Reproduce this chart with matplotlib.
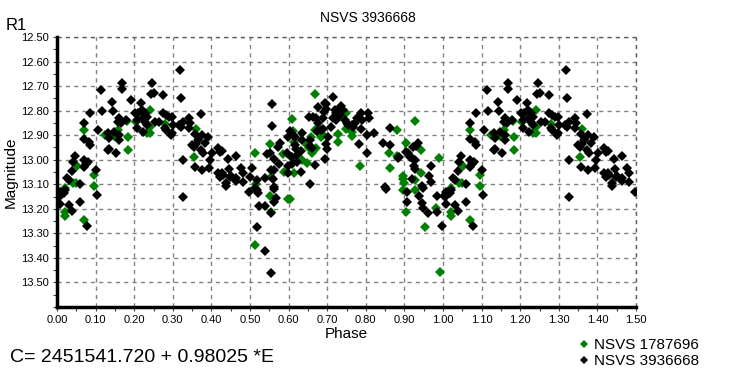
import numpy as np
import matplotlib
matplotlib.use("Agg")
import matplotlib.pyplot as plt
from matplotlib.ticker import MultipleLocator, FormatStrFormatter, FuncFormatter

plt.rcParams['font.family'] = ['Liberation Sans', 'DejaVu Sans']

# NSVS 3936668 (black), folded phase 0..1
black_phase = [
    0.168, 0.168, 0.114, 0.142, 0.191, 0.116, 0.144, 0.085, 0.069, 0.107,
    0.161, 0.157, 0.165, 0.178, 0.131, 0.136, 0.148, 0.161, 0.161, 0.131,
    0.153, 0.134, 0.071, 0.083, 0.085, 0.046, 0.041, 0.038, 0.071, 0.080,
    0.076, 0.071, 0.102, 0.025, 0.030, 0.059, 0.008, 0.004, 0.017, 0.021,
    0.104, 0.008, 0.030, 0.039, 0.059, 0.078, 0.006,
    0.319, 0.245, 0.320, 0.244, 0.250, 0.274, 0.217, 0.202, 0.210, 0.219,
    0.227, 0.233, 0.223, 0.206, 0.206, 0.227, 0.232, 0.223, 0.253, 0.264,
    0.274, 0.283, 0.291, 0.298, 0.279, 0.283, 0.300, 0.298, 0.296, 0.317,
    0.321, 0.327, 0.341, 0.344, 0.341, 0.373, 0.357, 0.364, 0.391, 0.375,
    0.351, 0.356, 0.360, 0.384, 0.373, 0.377, 0.375, 0.358, 0.394, 0.397,
    0.327, 0.327, 0.401,
    0.557, 0.557, 0.416, 0.423, 0.427, 0.443, 0.463, 0.416, 0.427, 0.423,
    0.431, 0.446, 0.438, 0.438, 0.447, 0.450, 0.463, 0.463, 0.476, 0.481,
    0.481, 0.504, 0.500, 0.517, 0.512, 0.517, 0.521, 0.497, 0.523, 0.538,
    0.519, 0.538, 0.555, 0.538, 0.555, 0.561, 0.559, 0.563, 0.563, 0.568,
    0.561, 0.555, 0.552, 0.544, 0.572, 0.578, 0.562, 0.576, 0.598, 0.598,
    0.598, 0.595,
    0.714, 0.694, 0.698, 0.676, 0.698, 0.692, 0.720, 0.724, 0.733, 0.737,
    0.740, 0.733, 0.716, 0.724, 0.746, 0.750, 0.754, 0.763, 0.767, 0.771,
    0.787, 0.806, 0.776, 0.791, 0.808, 0.787, 0.802, 0.820, 0.783, 0.802,
    0.711, 0.654, 0.663, 0.671, 0.677, 0.689, 0.674, 0.685, 0.689, 0.703,
    0.697, 0.700, 0.694, 0.604, 0.612, 0.616, 0.634, 0.634, 0.616, 0.619,
    0.621, 0.631, 0.655, 0.655, 0.660, 0.608, 0.622, 0.608, 0.668, 0.632,
    0.655,
    0.863, 0.844, 0.863, 0.887, 0.884, 0.904, 0.910, 0.914, 0.919, 0.921,
    0.931, 0.936, 0.928, 0.924, 0.928, 0.919, 0.968, 0.964, 0.968, 0.851,
    0.852, 0.906, 0.945, 0.949, 0.939, 0.906, 0.945, 0.948, 0.962, 0.984,
    0.984, 0.997,
]
black_mag = [
    12.686, 12.712, 12.716, 12.763, 12.755, 12.800, 12.800, 12.808, 12.849, 12.878,
    12.831, 12.845, 12.851, 12.838, 12.893, 12.913, 12.886, 12.899, 12.920, 12.961,
    12.971, 12.955, 12.917, 12.927, 12.940, 12.985, 13.008, 13.045, 13.000, 13.008,
    13.019, 13.031, 13.042, 13.073, 13.083, 13.099, 13.131, 13.144, 13.137, 13.124,
    13.144, 13.181, 13.185, 13.210, 13.171, 13.269, 13.150,
    12.634, 12.686, 12.747, 12.732, 12.727, 12.737, 12.767, 12.811, 12.808, 12.797,
    12.811, 12.824, 12.831, 12.838, 12.869, 12.845, 12.859, 12.886, 12.845, 12.845,
    12.811, 12.818, 12.824, 12.827, 12.872, 12.879, 12.859, 12.893, 12.899, 12.859,
    12.866, 12.845, 12.831, 12.852, 12.872, 12.815, 12.896, 12.920, 12.906, 12.899,
    12.940, 12.947, 12.936, 12.931, 12.961, 12.971, 13.042, 13.029, 13.033, 13.000,
    13.000, 13.151, 12.971,
    12.774, 12.861, 12.954, 12.967, 12.963, 12.995, 12.986, 13.053, 13.056, 13.069,
    13.063, 13.039, 13.096, 13.106, 13.072, 13.067, 13.076, 13.086, 13.033, 13.053,
    13.090, 13.033, 13.072, 13.083, 13.116, 13.125, 13.137, 13.131, 13.189, 13.189,
    13.273, 13.371, 13.461, 13.076, 13.042, 13.042, 13.080, 13.111, 13.120, 13.155,
    13.171, 13.216, 12.971, 12.977, 12.949, 12.933, 12.998, 13.017, 12.906, 13.025,
    13.053, 12.974,
    12.743, 12.767, 12.774, 12.784, 12.795, 12.804, 12.797, 12.808, 12.788, 12.781,
    12.797, 12.818, 12.831, 12.838, 12.838, 12.852, 12.859, 12.859, 12.866, 12.852,
    12.808, 12.808, 12.829, 12.838, 12.829, 12.875, 12.899, 12.893, 12.936, 12.971,
    12.866, 12.827, 12.827, 12.831, 12.852, 12.829, 12.882, 12.879, 12.876, 12.906,
    12.937, 12.958, 12.999, 12.883, 12.899, 12.909, 12.893, 12.920, 12.940, 12.958,
    12.981, 12.963, 12.920, 12.944, 12.954, 12.988, 13.008, 13.018, 13.020, 13.049,
    13.097,
    12.869, 12.931, 12.940, 12.988, 12.992, 12.968, 12.974, 12.988, 12.992, 12.950,
    12.944, 12.933, 13.002, 13.026, 13.036, 13.077, 13.026, 13.067, 13.090, 13.110,
    13.118, 13.131, 13.107, 13.116, 13.147, 13.171, 13.178, 13.196, 13.219, 13.148,
    13.212, 13.269,
]

# NSVS 1787696 (green), folded phase 0..1
green_phase = [
    0.069, 0.125, 0.148, 0.184, 0.184, 0.157, 0.182, 0.051, 0.097, 0.097,
    0.042, 0.049, 0.021, 0.020, 0.020, 0.069,
    0.242, 0.242, 0.242, 0.233, 0.204, 0.279, 0.360, 0.356,
    0.551, 0.512, 0.586, 0.589, 0.555, 0.515, 0.551, 0.599, 0.555, 0.512,
    0.668, 0.610, 0.611, 0.613, 0.657, 0.668, 0.685, 0.689, 0.647, 0.652,
    0.660, 0.666, 0.671, 0.728, 0.727, 0.748, 0.748, 0.763, 0.763, 0.784,
    0.614, 0.634, 0.647, 0.606, 0.604,
    0.928, 0.880, 0.904, 0.860, 0.882, 0.943, 0.863, 0.989, 0.896, 0.897,
    0.899, 0.896, 0.928, 0.928, 0.943, 0.904, 0.954, 0.983, 0.993,
]
green_mag = [
    12.878, 12.898, 12.903, 12.906, 12.961, 12.879, 12.841, 13.026, 13.063, 13.107,
    13.094, 13.094, 13.117, 13.212, 13.230, 13.246,
    12.797, 12.865, 12.890, 12.893, 12.848, 12.854, 12.876, 12.988,
    12.937, 12.974, 12.978, 13.049, 13.069, 13.099, 13.148, 13.159, 13.212, 13.346,
    12.732, 12.834, 12.882, 12.929, 12.906, 12.879, 12.906, 12.899, 12.940, 12.954,
    12.971, 12.960, 12.954, 12.895, 12.927, 12.808, 12.876, 12.886, 12.903, 13.026,
    13.053, 13.000, 13.012, 12.990, 13.158,
    12.842, 12.879, 12.933, 12.971, 12.985, 12.961, 13.035, 12.992, 13.067, 13.080,
    13.094, 13.124, 13.084, 13.124, 13.053, 13.214, 13.274, 13.196, 13.457,
]


def extend(phase, mag):
    # phases 0..0.5 are shown again at 1.0..1.5
    p = np.asarray(phase)
    m = np.asarray(mag)
    sel = p < 0.5
    return np.concatenate([p, p[sel] + 1]), np.concatenate([m, m[sel]])


fig = plt.figure(figsize=(7.36, 3.86), dpi=100)
ax = fig.add_axes([57 / 736, 1 - 307 / 386, 579 / 736, 270 / 386])

gp, gm = extend(green_phase, green_mag)
bp, bm = extend(black_phase, black_mag)
ax.plot(gp, gm, 'D', color='#008000', ms=4.7, mew=0, label='NSVS 1787696', zorder=3)
ax.plot(bp, bm, 'D', color='black', ms=4.7, mew=0, label='NSVS 3936668', zorder=3)

ax.set_xlim(0, 1.5)
ax.set_ylim(13.60, 12.50)
ax.xaxis.set_major_locator(MultipleLocator(0.1))
ax.xaxis.set_minor_locator(MultipleLocator(0.05))
ax.yaxis.set_major_locator(MultipleLocator(0.1))
ax.yaxis.set_minor_locator(MultipleLocator(0.05))
ax.xaxis.set_major_formatter(FormatStrFormatter('%.2f'))
ax.yaxis.set_major_formatter(FuncFormatter(lambda v, pos: '' if v > 13.55 else '%.2f' % v))
ax.tick_params(which='both', length=3, width=0.8, color='#404040', labelsize=8, pad=3)
ax.grid(True, which='major', linestyle=(0, (3, 3)), color='#808080', linewidth=1)
ax.set_axisbelow(True)

ax.spines['top'].set_visible(False)
ax.spines['right'].set_visible(False)
ax.spines['left'].set_linewidth(2.5)
ax.spines['bottom'].set_linewidth(2.5)
# dashed frame on the top and right
ax.axhline(12.50, color='#606060', linestyle=(0, (3, 3)), linewidth=1, clip_on=False)
ax.axvline(1.50, color='#606060', linestyle=(0, (3, 3)), linewidth=1, clip_on=False)

ax.set_xlabel('Phase', fontsize=11, labelpad=1)
ax.set_ylabel('Magnitude', fontsize=11, labelpad=2)
fig.text(368 / 736, 1 - 18 / 386, 'NSVS 3936668', ha='center', va='center', fontsize=10)
fig.text(6 / 736, 1 - 26 / 386, 'R1', ha='left', va='center', fontsize=12)
fig.text(10 / 736, 1 - 358 / 386, 'C= 2451541.720 + 0.98025 *E', ha='left', va='center', fontsize=14)

ax.legend(loc='upper left', bbox_to_anchor=(570 / 736, 1 - 332 / 386),
          bbox_transform=fig.transFigure, frameon=False, fontsize=11,
          handletextpad=0.2, handlelength=1.0, borderaxespad=0, labelspacing=0.15,
          markerscale=0.8)

fig.savefig('out.png', dpi=100)
